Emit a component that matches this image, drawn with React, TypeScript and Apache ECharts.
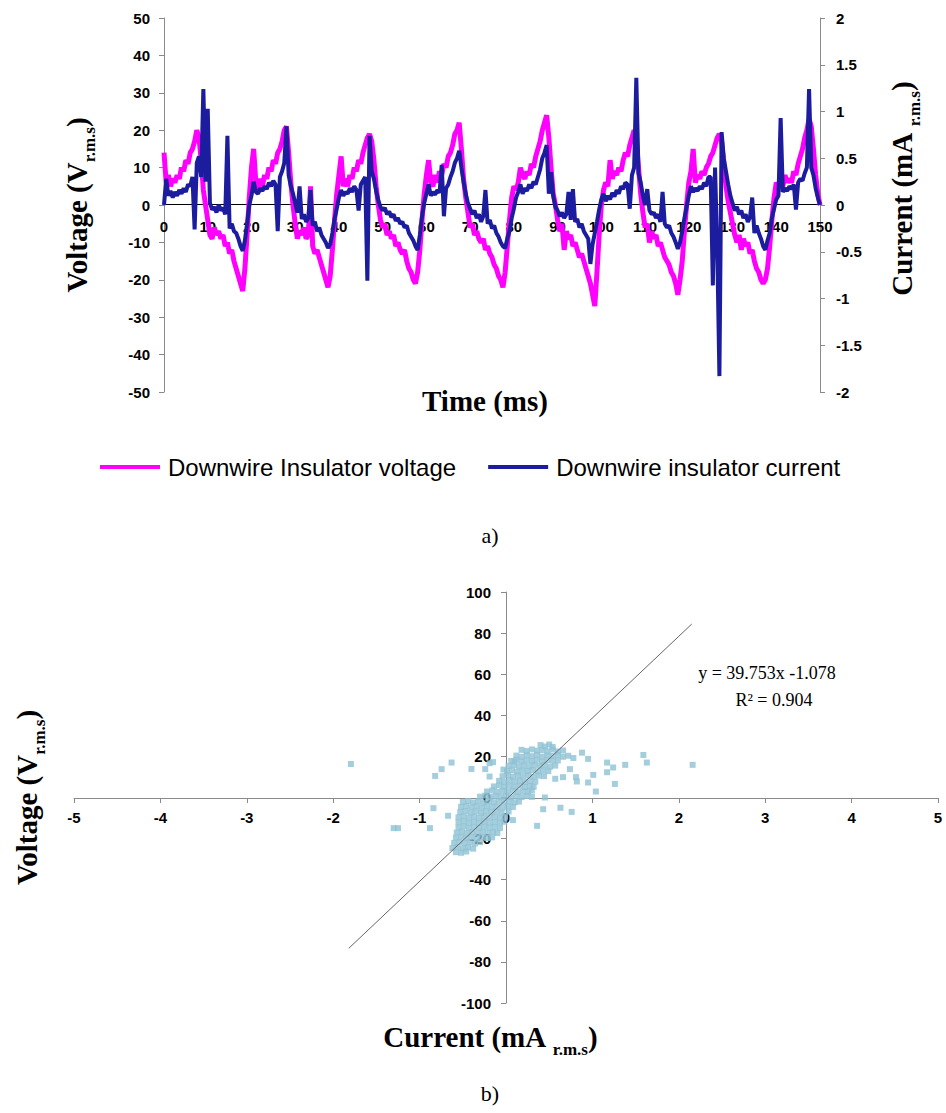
import React, { useEffect, useRef } from "react";
import * as echarts from "echarts";

// ---------- (a) time series, sampled every 0.5 ms from 0 to 150 ms ----------
const TIME_STEP_MS = 0.5;

// Downwire insulator voltage (V r.m.s), 301 samples
const VOLTAGE: number[] = [
  14, 6, 8, 5, 7, 6, 8, 7, 10, 9, 12, 11, 14, 15, 17, 20, 18, 12, 4, 0,
  -4, -8, -9, -6, -8, -7, -9, -8, -11, -10, -13, -12, -15, -17, -19, -21, -23, -17, -8, 2,
  10, 15, 6, 4, 7, 5, 8, 7, 10, 9, 12, 11, 14, 15, 17, 20, 21, 14, 6, 0,
  -5, -9, -7, -8, -6, -9, -8, 5, -11, -13, -12, -14, -16, -18, -20, -22, -19, -12, -4, 3,
  8, 13, 5, 7, 5, 8, 7, 10, 9, 12, 11, 14, 16, 18, 19, 17, 12, 5, 0, -4,
  -6, -5, -8, -7, -9, -8, -11, -10, -12, -13, -12, -15, -17, -18, -20, -21, -18, -12, -4, 3,
  8, 12, 6, 5, 8, 6, 9, 8, 11, 10, 13, 14, 16, 19, 20, 22, 15, 7, 2, -2,
  -6, -5, -8, -7, -9, -10, -9, -12, -11, -13, -14, -16, -17, -19, -20, -22, -18, -11, -4, 2,
  5, 4, 6, 10, 8, 7, 9, 8, 11, 10, 13, 15, 17, 20, 22, 24, 18, 10, 3, 0,
  -4, -7, -5, -12, -7, -9, -8, -11, -10, -12, -14, -13, -15, -17, -19, -21, -24, -27, -18, -8,
  0, 4, 6, 5, 12, 7, 9, 8, 10, 9, 12, 14, 13, 16, 18, 20, 17, 10, 3, -2,
  -6, -5, -10, -7, -9, -8, -11, -10, -12, -14, -15, -16, -18, -19, -21, -24, -20, -15, -7, 0,
  6, 9, 15, 6, 8, 7, 9, 8, 10, 11, 13, 14, 16, 18, 19, 17, 11, 5, 1, -2,
  -5, -8, -10, -8, -12, -9, -11, -10, -13, -12, -15, -17, -18, -20, -21, -20, -17, -11, -4, 2,
  6, 5, 7, 5, 8, 6, 7, 6, 9, 8, 11, 13, 15, 18, 20, 23, 21, 15, 8, 3,
  0,
];

// Downwire insulator current (mA r.m.s), 301 samples
const CURRENT: number[] = [
  0, 0.28, 0.1, 0.15, 0.08, 0.14, 0.1, 0.16, 0.12, 0.18, 0.14, 0.22, 0.2, 0.3, -0.26, 0.45, 0.52, 0.3, 1.24, 0.25,
  1.03, 0.02, -0.05, -0.02, -0.08, 0, -0.06, -0.03, -0.1, 0.74, -0.25, -0.2, -0.28, -0.3, -0.36, -0.44, -0.49, -0.38, -0.2, 0,
  0.1, 0.25, 0.14, 0.12, 0.18, 0.15, 0.2, 0.17, 0.24, 0.2, 0.26, 0.22, -0.28, 0.3, 0.36, 0.45, 0.84, 0.32, 0.2, 0.12,
  0.02, -0.08, 0.2, -0.15, -0.1, -0.18, -0.14, 0.16, -0.22, -0.18, -0.28, -0.24, -0.32, -0.36, -0.4, -0.46, -0.42, -0.3, -0.15, -0.04,
  0.08, 0.16, 0.1, 0.14, 0.12, 0.18, 0.14, 0.2, 0.16, -0.06, 0.22, 0.26, 0.3, -0.81, 0.74, 0.36, 0.28, 0.15, 0.05, -0.02,
  -0.06, -0.03, -0.1, -0.07, -0.13, -0.1, -0.17, -0.14, -0.2, -0.18, -0.24, -0.22, -0.3, -0.34, -0.38, -0.44, -0.48, -0.32, -0.12, 0.02,
  0.12, 0.22, 0.1, 0.14, 0.11, 0.16, 0.13, 0.43, -0.12, 0.18, 0.22, 0.3, 0.36, 0.45, 0.5, 0.58, 0.4, 0.25, 0.12, 0.02,
  -0.04, -0.1, -0.06, -0.14, -0.1, -0.18, -0.12, 0.16, -0.2, -0.16, -0.25, -0.22, -0.3, -0.34, -0.4, -0.44, -0.46, -0.36, -0.28, -0.14,
  -0.04, 0.08, 0.14, 0.22, 0.12, 0.18, 0.15, 0.22, 0.18, 0.25, 0.22, 0.3, 0.38, 0.5, 0.56, 0.64, 0.12, 0.35, 0.1, -0.02,
  -0.06, -0.12, -0.08, -0.14, -0.1, 0.14, -0.16, 0.17, -0.18, -0.15, -0.24, -0.2, -0.28, -0.32, -0.36, -0.63, -0.42, -0.3, -0.18, -0.05,
  0.06, 0.12, 0.04, 0.1, 0.06, 0.13, 0.09, 0.16, 0.12, 0.2, 0.17, 0.24, 0.22, -0.04, 0.32, 0.4, 1.36, 0.34, 0.24, 0.1,
  0, 0.17, -0.06, -0.1, -0.08, -0.14, -0.1, -0.18, 0.14, -0.2, -0.24, -0.22, -0.3, -0.34, -0.4, -0.47, -0.4, -0.28, -0.14, -0.02,
  0.1, 0.2, 0.14, 0.18, 0.15, 0.2, 0.17, 0.24, 0.2, 0.3, 0.3, -0.86, 0.4, -0.45, -1.83, 0.78, 0.5, 0.36, 0.22, 0.1,
  0.02, -0.06, -0.02, -0.1, -0.06, -0.14, -0.1, -0.18, -0.13, 0.08, -0.3, -0.22, -0.3, -0.36, -0.44, -0.48, -0.38, -0.3, -0.14, -0.04,
  0.06, 0.1, 0.93, 0.14, 0.18, 0.15, 0.2, 0.17, 0.22, -0.05, 0.24, 0.28, 0.26, 0.34, 0.4, 1.24, 0.4, 0.32, 0.18, 0.08,
  0,
];

const SERIES_NAMES = ["Downwire Insulator voltage", "Downwire insulator current"];

// ---------- (b) scatter: [current mA, voltage V] ----------
const SCATTER_POINTS: [number, number][] = [
  [0.40, 25.5], [0.45, 24.8], [0.50, 25.8], [0.54, 24.6],
  [0.18, 23.2], [0.24, 22.6], [0.30, 23.4], [0.36, 22.8], [0.42, 23.1], [0.48, 22.5], [0.54, 23.3], [0.60, 22.4], [0.66, 22.9], [0.88, 21.8],
  [0.12, 20.4], [0.18, 19.8], [0.24, 20.6], [0.30, 20.1], [0.36, 20.8], [0.42, 19.9], [0.48, 20.5], [0.54, 20.2], [0.60, 20.7], [0.66, 19.8], [0.72, 20.3], [0.78, 19.2], [0.95, 18.8],
  [-0.15, 17.2], [0.06, 17.8], [0.12, 18.3], [0.18, 17.6], [0.24, 18.1], [0.30, 17.7], [0.36, 18.4], [0.42, 17.5], [0.48, 18.2], [0.54, 17.9], [0.60, 18.0], [0.10, 17.5],
  [0.03, 15.3], [0.09, 15.8], [0.15, 15.1], [0.21, 15.6], [0.27, 15.2], [0.33, 15.9], [0.39, 15.4], [0.45, 15.7], [0.51, 15.0], [0.57, 15.5], [-0.19, 16.7],
  [-0.24, 13.8], [-0.03, 13.6], [0.01, 12.8], [0.07, 13.3], [0.13, 12.6], [0.19, 13.1], [0.25, 12.9], [0.31, 13.4], [0.37, 12.7], [0.43, 13.2], [0.49, 12.8], [0.74, 13.8],
  [-0.19, 10.2], [-0.04, 10.4], [0.02, 10.9], [0.08, 10.2], [0.14, 10.7], [0.20, 10.3], [0.26, 10.8], [0.32, 10.1], [0.38, 10.6], [0.44, 10.4], [0.66, 9.9], [0.81, 9.9],
  [-0.08, 8.1], [-0.02, 7.6], [0.04, 8.3], [0.10, 7.8], [0.16, 8.2], [0.22, 7.5], [0.28, 8.0], [0.34, 7.7], [0.57, 9.1], [0.82, 7.8],
  [-0.14, 5.4], [-0.08, 5.9], [-0.02, 5.2], [0.04, 5.7], [0.10, 5.3], [0.16, 5.8], [0.22, 5.1], [0.28, 5.6], [0.32, 5.2],
  [-0.22, 2.9], [-0.16, 3.4], [-0.10, 2.7], [-0.04, 3.2], [0.02, 2.8], [0.08, 3.3], [0.14, 2.6], [0.20, 3.1], [0.26, 2.9], [0.30, 3.4], [1.04, 2.9],
  [-0.30, 0.4], [-0.24, 0.9], [-0.18, 0.2], [-0.12, 0.7], [-0.06, 0.3], [0.00, 0.8], [0.06, 0.1], [0.12, 0.6], [0.18, 0.2], [0.24, 0.7], [0.30, 0.3], [0.45, 0.0],
  [-0.50, -2.2], [-0.44, -1.7], [-0.38, -2.4], [-0.32, -1.9], [-0.26, -2.5], [-0.20, -1.8], [-0.14, -2.3], [-0.08, -1.6], [-0.02, -2.1], [0.04, -1.9], [0.10, -2.4], [0.15, -2.0],
  [-0.52, -4.6], [-0.46, -4.1], [-0.40, -4.8], [-0.34, -4.3], [-0.28, -4.9], [-0.22, -4.2], [-0.16, -4.7], [-0.10, -4.4], [-0.04, -4.9], [0.02, -4.3], [0.08, -4.6], [0.43, -5.7], [0.63, -5.0], [-0.84, -5.2],
  [-0.53, -7.1], [-0.47, -6.6], [-0.41, -7.3], [-0.35, -6.8], [-0.29, -7.4], [-0.23, -6.7], [-0.17, -7.2], [-0.11, -6.9], [-0.05, -7.3], [0.03, -6.8], [0.76, -7.0], [-0.67, -8.9],
  [-0.55, -9.6], [-0.49, -9.1], [-0.43, -9.8], [-0.37, -9.3], [-0.31, -9.9], [-0.25, -9.2], [-0.19, -9.7], [-0.13, -9.4], [-0.07, -9.8], [-0.01, -9.2], [0.08, -11.0],
  [-0.55, -12.1], [-0.49, -11.6], [-0.43, -12.3], [-0.37, -11.8], [-0.31, -12.4], [-0.25, -11.7], [-0.19, -12.2], [-0.13, -11.9], [-0.07, -12.3], [-0.02, -11.8], [0.36, -13.8],
  [-0.55, -14.6], [-0.49, -14.1], [-0.43, -14.8], [-0.37, -14.3], [-0.31, -14.9], [-0.25, -14.2], [-0.19, -14.7], [-0.13, -14.4], [-0.07, -14.9], [-0.88, -14.9], [-1.25, -14.9], [-1.30, -14.9],
  [-0.57, -17.1], [-0.51, -16.6], [-0.45, -17.3], [-0.39, -16.8], [-0.33, -17.4], [-0.27, -16.7], [-0.21, -17.2], [-0.15, -16.9], [-0.10, -17.3],
  [-0.58, -19.6], [-0.52, -19.1], [-0.46, -19.8], [-0.40, -19.3], [-0.34, -19.9], [-0.28, -19.2], [-0.22, -19.7], [-0.16, -19.4],
  [-0.60, -22.1], [-0.54, -21.6], [-0.48, -22.3], [-0.42, -21.8], [-0.36, -22.4], [-0.30, -21.7],
  [-0.62, -24.6], [-0.56, -24.1], [-0.50, -24.8], [-0.44, -24.3], [-0.38, -24.9],
  [-0.58, -26.6], [-0.52, -26.9], [-0.46, -26.3],
  [-1.795, 16.3], [-0.82, 10.5], [-0.745, 13.8], [-0.63, 17.0], [-0.40, 13.9],
  [1.59, 20.7], [1.63, 17.0], [2.16, 15.9], [1.38, 15.9], [1.17, 17.0], [1.24, 14.6], [1.17, 12.3], [1.26, 6.6], [1.01, 11.0], [0.95, 7.3],
];

// Linear trend line end points
const TREND_LINE: [number, number][] = [
  [-1.82, -73.4],
  [2.15, 84.4],
];
const TREND_EQUATION = "y = 39.753x -1.078";
const TREND_R2 = "R\u00B2 = 0.904";

const SANS = "'Liberation Sans', Arial, sans-serif";
const SERIF = "'Liberation Serif', 'Times New Roman', serif";
const AXIS_GRAY = "#8a8a8a";

const tickLabel = {
  color: "#000",
  fontFamily: SANS,
  fontWeight: "bold" as const,
  fontSize: 15,
};

const nameRich = {
  m: { fontFamily: SERIF, fontWeight: "bold", fontSize: 29, lineHeight: 36, verticalAlign: "top", color: "#000" },
  s: { fontFamily: SERIF, fontWeight: "bold", fontSize: 17, lineHeight: 17, verticalAlign: "bottom", color: "#000" },
};

const hiddenAxis = (gridIndex: number, min: number, max: number) => ({
  gridIndex,
  type: "value",
  min,
  max,
  show: false,
  axisLine: { onZero: false },
  splitLine: { show: false },
});

export default function App() {
  const ref = useRef<HTMLDivElement>(null);

  useEffect(() => {
    if (!ref.current) return;
    const chart = echarts.init(ref.current, null, { renderer: "svg" });

    const voltageData = VOLTAGE.map((v, i) => [i * TIME_STEP_MS, v]);
    const currentData = CURRENT.map((v, i) => [i * TIME_STEP_MS, v]);

    const option: any = {
      animation: false,
      backgroundColor: "#fff",
      grid: [
        // 0: time-series plot area
        { left: 164, top: 18, width: 656, height: 374, outerBoundsMode: "none", containLabel: false },
        // 1: top half of plot area -> its bottom edge is the zero line carrying the time axis
        { left: 164, top: 18, width: 656, height: 186, outerBoundsMode: "none", containLabel: false },
        // 2: scatter plot area
        { left: 74, top: 592, width: 864, height: 411, outerBoundsMode: "none", containLabel: false },
        // 3: upper part of scatter area -> bottom edge is the V = 0 line carrying the current axis
        { left: 74, top: 592, width: 864, height: 206, outerBoundsMode: "none", containLabel: false },
        // 4: right part of scatter area -> left edge is the I = 0 line carrying the voltage axis
        { left: 506, top: 592, width: 432, height: 411, outerBoundsMode: "none", containLabel: false },
      ],
      legend: {
        data: SERIES_NAMES,
        left: 100,
        top: 455,
        padding: 0,
        icon: "rect",
        itemWidth: 60,
        itemHeight: 4,
        itemGap: 32,
        textStyle: { color: "#000", fontFamily: SANS, fontSize: 24, padding: [0, 0, 0, 3] },
      },
      xAxis: [
        // 0: hidden time axis used by the series
        hiddenAxis(0, 0, 150),
        // 1: visible time axis on the zero line
        {
          gridIndex: 1,
          type: "value",
          min: 0,
          max: 150,
          interval: 10,
          position: "bottom",
          name: "Time (ms)",
          nameLocation: "middle",
          nameGap: 182,
          nameTextStyle: { fontFamily: SERIF, fontWeight: "bold", fontSize: 29, color: "#000", padding: [0, 14, 0, 0] },
          axisLine: { show: true, onZero: false, lineStyle: { color: "#000", width: 1 } },
          axisTick: { show: false },
          axisLabel: { ...tickLabel, margin: 15 },
          splitLine: { show: false },
        },
        // 2: hidden current axis used by scatter
        hiddenAxis(2, -5, 5),
        // 3: visible current axis on V = 0
        {
          gridIndex: 3,
          type: "value",
          min: -5,
          max: 5,
          interval: 1,
          position: "bottom",
          name: "{m|Current (mA }{s|r.m.s}{m|)}",
          nameLocation: "middle",
          nameGap: 224,
          nameTextStyle: { rich: nameRich, padding: [0, 32, 0, 0] },
          axisLine: { show: true, onZero: false, lineStyle: { color: AXIS_GRAY, width: 1 } },
          axisTick: { show: true, inside: false, length: 5, lineStyle: { color: AXIS_GRAY } },
          axisLabel: { ...tickLabel, margin: 12 },
          splitLine: { show: false },
        },
        // 4: hidden helper
        hiddenAxis(4, 0, 5),
      ],
      yAxis: [
        // 0: voltage (left)
        {
          gridIndex: 0,
          type: "value",
          position: "left",
          min: -50,
          max: 50,
          interval: 10,
          name: "{m|Voltage (V}{s|r.m.s}{m|)}",
          nameLocation: "middle",
          nameRotate: 90,
          nameGap: 66,
          nameTextStyle: { rich: nameRich },
          axisLine: { show: true, onZero: false, lineStyle: { color: AXIS_GRAY, width: 1 } },
          axisTick: { show: true, length: 5, lineStyle: { color: AXIS_GRAY } },
          axisLabel: { ...tickLabel, margin: 14 },
          splitLine: { show: false },
        },
        // 1: current (right)
        {
          gridIndex: 0,
          type: "value",
          position: "right",
          min: -2,
          max: 2,
          interval: 0.5,
          name: "{m|Current (mA }{s|r.m.s}{m|)}",
          nameLocation: "middle",
          nameRotate: 90,
          nameGap: 67,
          nameTextStyle: { rich: nameRich, padding: [0, 0, 0, 32] },
          axisLine: { show: true, onZero: false, lineStyle: { color: AXIS_GRAY, width: 1 } },
          axisTick: { show: true, length: 5, lineStyle: { color: AXIS_GRAY } },
          axisLabel: { ...tickLabel, margin: 16 },
          splitLine: { show: false },
        },
        // 2: hidden helper
        hiddenAxis(1, 0, 50),
        // 3: hidden voltage axis used by scatter
        hiddenAxis(2, -100, 100),
        // 4: hidden helper
        hiddenAxis(3, 0, 100),
        // 5: visible voltage axis on I = 0
        {
          gridIndex: 4,
          type: "value",
          position: "left",
          min: -100,
          max: 100,
          interval: 20,
          name: "{m|Voltage (V}{s|r.m.s}{m|)}",
          nameLocation: "middle",
          nameRotate: 90,
          nameGap: 458,
          nameTextStyle: { rich: nameRich },
          axisLine: { show: true, onZero: false, lineStyle: { color: AXIS_GRAY, width: 1 } },
          axisTick: { show: true, length: 5, lineStyle: { color: AXIS_GRAY } },
          axisLabel: { ...tickLabel, margin: 15 },
          splitLine: { show: false },
        },
      ],
      series: [
        {
          name: SERIES_NAMES[0],
          type: "line",
          xAxisIndex: 0,
          yAxisIndex: 0,
          data: voltageData,
          symbol: "none",
          showSymbol: false,
          lineStyle: { color: "#ff00ff", width: 5 },
          itemStyle: { color: "#ff00ff" },
          z: 2,
        },
        {
          name: SERIES_NAMES[1],
          type: "line",
          xAxisIndex: 0,
          yAxisIndex: 1,
          data: currentData,
          symbol: "none",
          showSymbol: false,
          lineStyle: { color: "#1c1c9e", width: 4 },
          itemStyle: { color: "#1c1c9e" },
          z: 3,
        },
        {
          type: "scatter",
          xAxisIndex: 2,
          yAxisIndex: 3,
          data: SCATTER_POINTS,
          symbol: "rect",
          symbolSize: 6,
          itemStyle: { color: "#8ec2d4" },
          z: 2,
        },
        {
          type: "line",
          xAxisIndex: 2,
          yAxisIndex: 3,
          data: TREND_LINE,
          symbol: "none",
          lineStyle: { color: "#666", width: 1 },
          z: 3,
        },
      ],
      graphic: [
        {
          type: "text",
          x: 767,
          y: 673,
          style: { text: TREND_EQUATION, font: `18px ${SERIF}`, fill: "#000", textAlign: "center", textVerticalAlign: "middle" },
        },
        {
          type: "text",
          x: 774,
          y: 700,
          style: { text: TREND_R2, font: `18px ${SERIF}`, fill: "#000", textAlign: "center", textVerticalAlign: "middle" },
        },
        {
          type: "text",
          x: 490,
          y: 535,
          style: { text: "a)", font: `22px ${SERIF}`, fill: "#000", textAlign: "center", textVerticalAlign: "middle" },
        },
        {
          type: "text",
          x: 490,
          y: 1093,
          style: { text: "b)", font: `22px ${SERIF}`, fill: "#000", textAlign: "center", textVerticalAlign: "middle" },
        },
      ],
    };

    chart.setOption(option);
    return () => chart.dispose();
  }, []);

  return (
    <div
      ref={ref}
      style={{ position: "absolute", left: 0, top: 0, width: 946, height: 1113, background: "#fff" }}
    />
  );
}
